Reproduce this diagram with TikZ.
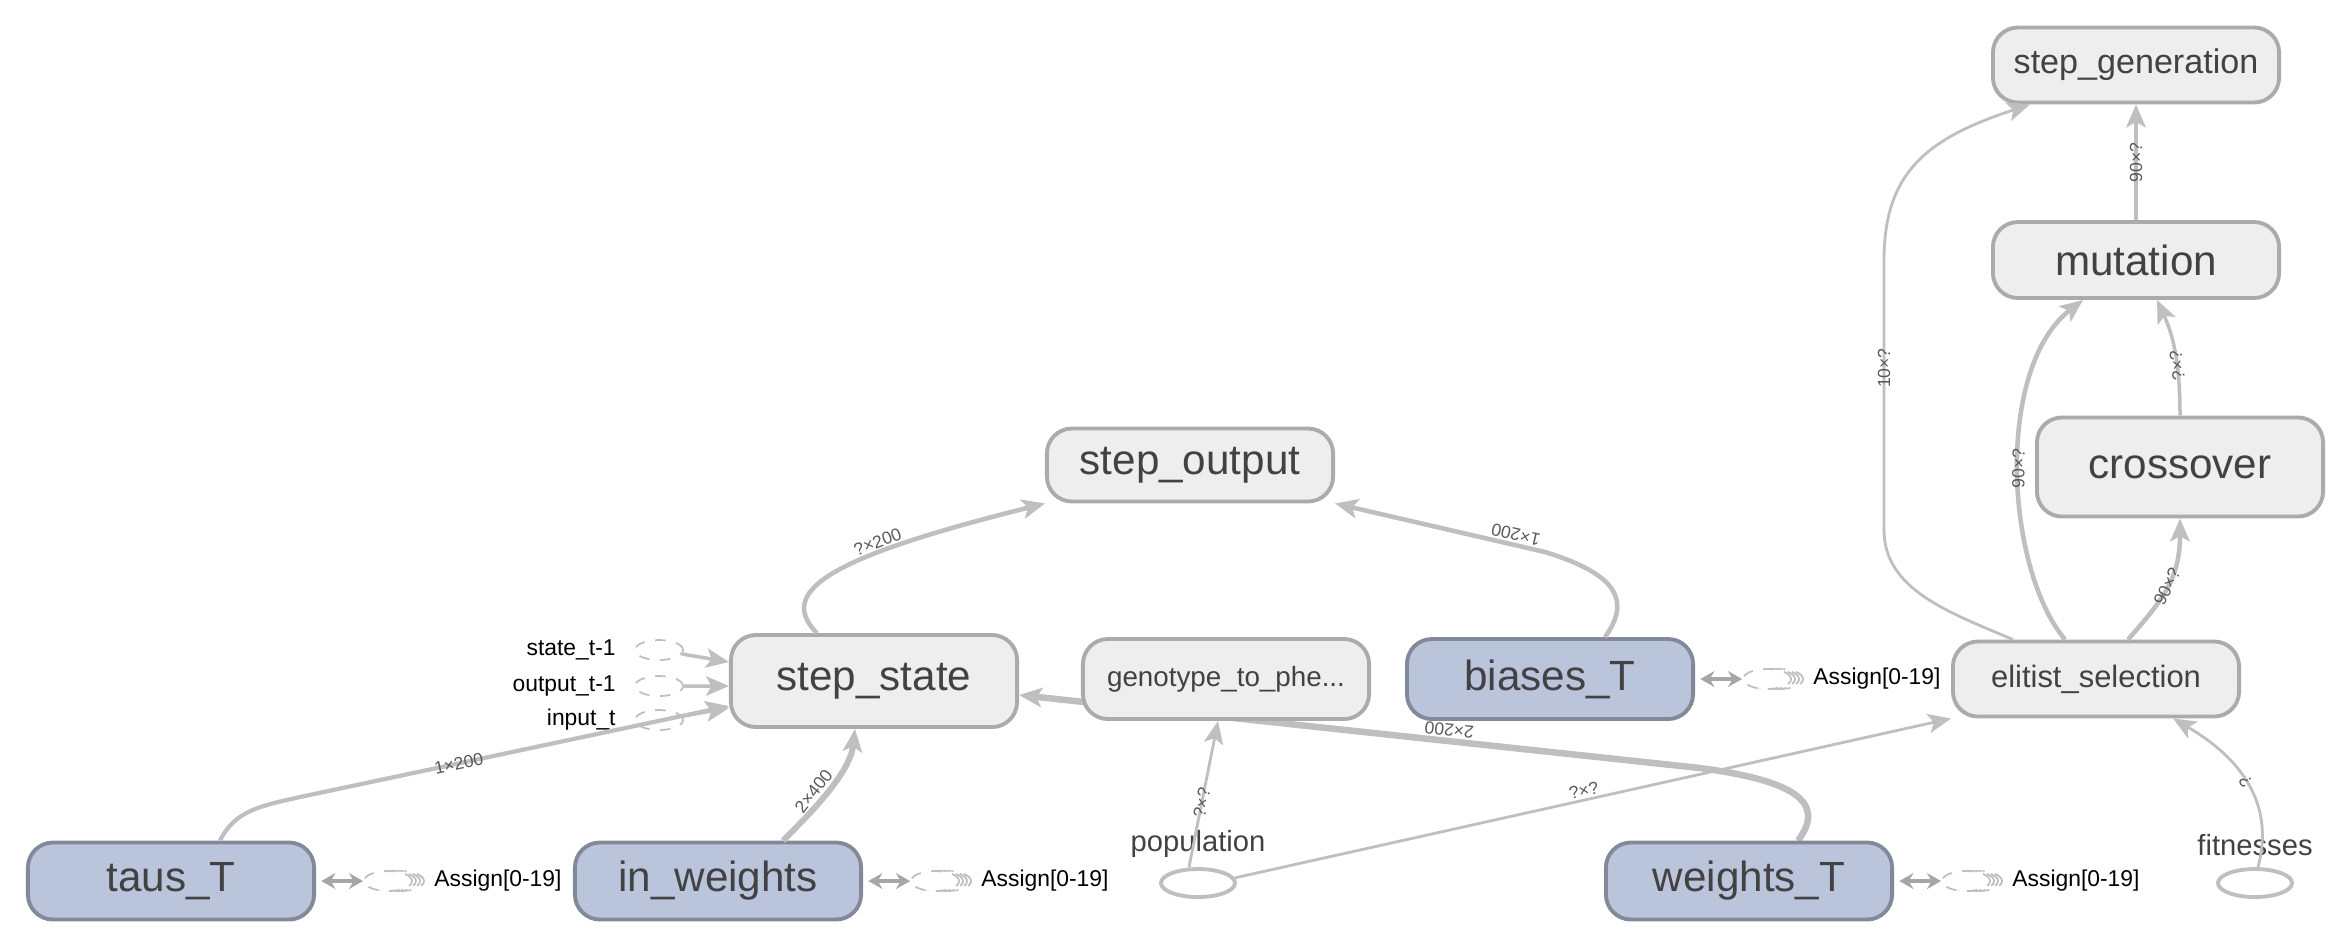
\documentclass[tikz,border=0pt]{standalone}
\usepackage{fontspec}
\setmainfont{Liberation Sans}
\usetikzlibrary{arrows.meta,shapes.geometric}
\pgfdeclarelayer{bg}
\pgfsetlayers{bg,main}

\definecolor{opfill}{HTML}{EEEEEE}
\definecolor{opline}{HTML}{ABABAB}
\definecolor{varfill}{HTML}{BAC4DB}
\definecolor{varline}{HTML}{828A9A}
\definecolor{edgegray}{HTML}{BFBFBF}
\definecolor{txtgray}{HTML}{424242}

\tikzset{
  op/.style={rectangle, rounded corners=2.5mm, draw=opline, fill=opfill, line width=1.1pt,
    text=txtgray, minimum width=28.6mm, minimum height=7.5mm, inner sep=0pt,
    font=\fontsize{12}{14}\selectfont},
  var/.style={op, draw=varline, fill=varfill, minimum height=7.7mm},
  flow/.style={draw=edgegray, line width=1.2pt, -{Stealth[length=6.5pt,width=5.5pt,inset=1.5pt]}},
  flowthin/.style={flow, line width=0.8pt},
  dims/.style={sloped, allow upside down, inner sep=0.5pt, text=black!65,
    font=\fontsize{5}{6}\selectfont},
  hole/.style={ellipse, draw=edgegray, line width=1.1pt, fill=white, inner sep=0pt,
    minimum width=7.4mm, minimum height=2.8mm},
  holetext/.style={text=txtgray, font=\fontsize{8.3}{10}\selectfont},
  stub/.style={ellipse, draw=edgegray, dashed, line width=0.5pt, fill=white, inner sep=0pt,
    minimum width=4.8mm, minimum height=2mm},
  stubtext/.style={font=\fontsize{6.5}{8}\selectfont},
  assign/.style={draw=black!35, line width=1.1pt,
    {Stealth[length=4pt,width=4.5pt]}-{Stealth[length=4pt,width=4.5pt]}}
}

\begin{document}
\begin{tikzpicture}[x=0.01cm, y=-0.01cm]
\useasboundingbox (0,0) rectangle (2330,950);

% ops
\node[op, minimum height=9.2mm] (state) at (874,681) {step\_state};
\node[op, minimum height=7.3mm] (output) at (1190,465) {step\_output};
\node[op, minimum height=8mm, font=\fontsize{7.9}{9}\selectfont] (geno) at (1226,679) {genotype\_to\_phe...};
\node[op, font=\fontsize{8.8}{10}\selectfont] (elit) at (2096,679) {elitist\_selection};
\node[op, minimum height=9.9mm] (cross) at (2180,467) {crossover};
\node[op, minimum height=7.6mm] (mut) at (2136,260) {mutation};
\node[op, font=\fontsize{9.7}{11}\selectfont] (gen) at (2136,65) {step\_generation};

% variables
\node[var] (taus) at (171,881) {taus\_T};
\node[var] (inw) at (718,881) {in\_weights};
\node[var] (wts) at (1749,881) {weights\_T};
\node[var, minimum height=8mm] (bias) at (1550,679) {biases\_T};

% placeholders
\node[hole] (pop) at (1198,883) {};
\node[holetext] (poplabel) at (1198,844) {population};
\node[hole] (fit) at (2255,883) {};
\node[holetext] (fitlabel) at (2255,845) {fitnesses};

% inputs of step_state
\foreach \n/\txt/\y in {st/state\_t-1/650, ot/output\_t-1/686, it/input\_t/720} {
  \node[stub] (\n) at (659,\y) {};
  \node[stubtext, anchor=east] (\n-l) at (628,\y) {\txt};
}
\draw[flow, line width=1pt] (st) -- ([yshift=1.9mm]state.west);
\draw[flow, line width=1pt] (ot) -- ([yshift=-0.5mm]state.west);
\draw[flow, line width=1pt] (it) -- ([yshift=-2.7mm]state.west);

% assign series
\foreach \v/\x/\y in {taus/388/881, inw/935/881, wts/1966/881, bias/1767/679} {
  \foreach \d in {12,8,4}
    \draw[edgegray, dashed, line width=0.5pt, fill=white] (\x+\d,\y) ellipse [x radius=2.4mm, y radius=1mm];
  \node[stub] (\v-as) at (\x,\y) {};
  \node[stubtext, anchor=west] (\v-at) at (\x+34,\y) {Assign[0-19]};
  \draw[assign, shorten <=1.5pt] (\v) -- (\v-as);
}

% into step_state
\draw[flow] ([xshift=4.9mm]taus.north) .. controls +(15,-30) and +(-40,9) .. (300,797)
  -- node[dims, pos=0.37] {1×200} ([yshift=-2.5mm]state.west);
\draw[flow, line width=1.7pt] ([xshift=6.5mm]inw.north) .. controls +(25,-25) and +(-5,45) ..
  node[dims, above, pos=0.45] {2×400} ([xshift=-1.9mm]state.south);
\begin{pgfonlayer}{bg}
\draw[flow, line width=1.85pt] ([xshift=4.9mm]wts.north) .. controls +(30,-40) and +(90,12) .. (1700,768)
  -- node[dims, below, pos=0.37] {2×200} ([yshift=-1.4mm]state.east);
\end{pgfonlayer}

% into step_output
\draw[flow, line width=1.3pt] ([xshift=-5.7mm]state.north) .. controls +(-45,-45) and +(-200,50) ..
  node[dims, above, pos=0.65] {?×200} (output.south west);
\draw[flow, line width=1.3pt] ([xshift=5.5mm]bias.north) .. controls +(25,-35) and +(75,23) .. (1545,552)
  -- node[dims, below, pos=0.15] {1×200} (output.south east);

% population and fitnesses
\draw[flowthin] ([xshift=-0.9mm]pop.north) -- node[dims, pos=0.44] {?×?} ([xshift=-0.8mm]geno.south);
\draw[flowthin] (pop.8) -- node[dims, above, pos=0.49] {?×?} (elit.south west);
\draw[flowthin] ([xshift=0.3mm]fit.north) .. controls +(15,-55) and +(77,45) ..
  node[dims, pos=0.55] {?} ([xshift=7.7mm]elit.south);

% generation step
\draw[flow, line width=1.3pt] ([xshift=3.2mm]elit.north) .. controls +(35,-40) and +(0,60) ..
  node[dims, pos=0.5] {90×?} (cross.south);
\draw[flow, line width=1.3pt] ([xshift=-3.1mm]elit.north) .. controls +(-60,-72) and +(-88,68) ..
  node[dims, pos=0.5] {90×?} ([xshift=-5.3mm]mut.south);
\draw[flow, line width=1pt] (cross.north) .. controls +(0,-57) and +(15,33) ..
  node[dims, pos=0.35] {?×?} ([xshift=2.1mm]mut.south);
\draw[flow] (mut) -- node[dims] {90×?} (gen);
\draw[flowthin] ([xshift=-8.3mm]elit.north) .. controls +(-63,-27) and +(0,60) .. (1884,530)
  -- node[dims, pos=0.6] {10×?} (1884,260) .. controls +(0,-90) and +(-100,33) .. ([xshift=-10.6mm]gen.south);
\end{tikzpicture}
\end{document}
